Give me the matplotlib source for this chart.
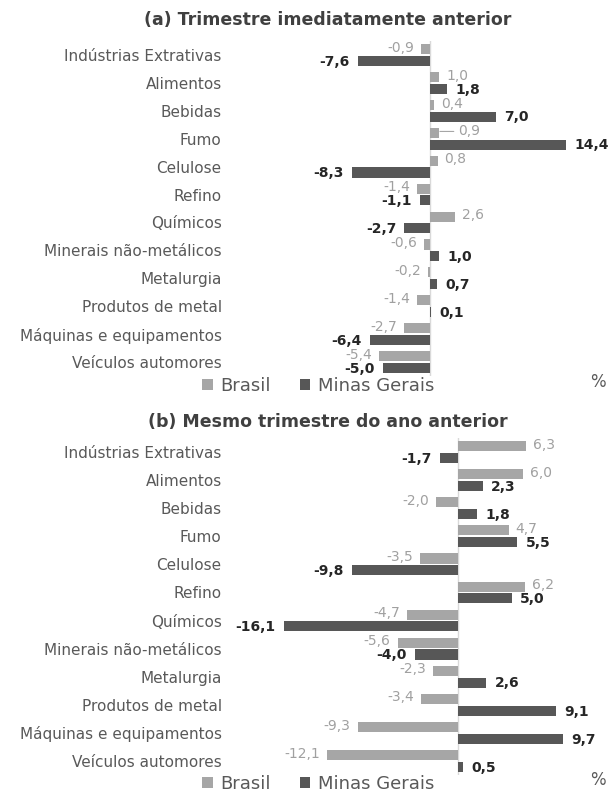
import matplotlib
matplotlib.use("Agg")
import matplotlib.pyplot as plt

plt.rcParams['font.family'] = ['DejaVu Sans']

categories = ["Indústrias Extrativas", "Alimentos", "Bebidas", "Fumo", "Celulose",
              "Refino", "Químicos", "Minerais não-metálicos", "Metalurgia",
              "Produtos de metal", "Máquinas e equipamentos", "Veículos automores"]

# (a) Trimestre imediatamente anterior
brasil_a = [-0.9, 1.0, 0.4, 0.9, 0.8, -1.4, 2.6, -0.6, -0.2, -1.4, -2.7, -5.4]
mg_a = [-7.6, 1.8, 7.0, 14.4, -8.3, -1.1, -2.7, 1.0, 0.7, 0.1, -6.4, -5.0]

# (b) Mesmo trimestre do ano anterior
brasil_b = [6.3, 6.0, -2.0, 4.7, -3.5, 6.2, -4.7, -5.6, -2.3, -3.4, -9.3, -12.1]
mg_b = [-1.7, 2.3, 1.8, 5.5, -9.8, 5.0, -16.1, -4.0, 2.6, 9.1, 9.7, 0.5]

titles = ["(a) Trimestre imediatamente anterior", "(b) Mesmo trimestre do ano anterior"]

W, H = 611, 794
C_BR = "#a6a6a6"
C_MG = "#575757"
C_TXT = "#595959"


def fmt(v):
    return ("%.1f" % v).replace(".", ",")


def px_axes(fig, left, top, right, bottom):
    return fig.add_axes([left / W, 1 - bottom / H, (right - left) / W, (bottom - top) / H])


def draw_panel(ax, br, mg, xlim, leaders=()):
    n = len(categories)
    ys = list(range(n))
    off, h = 0.21, 0.36
    ax.barh([y - off for y in ys], br, height=h, color=C_BR, label="Brasil")
    ax.barh([y + off for y in ys], mg, height=h, color=C_MG, label="Minas Gerais")
    ax.axvline(0, color="#d9d9d9", lw=1, zorder=0)
    ax.set_xlim(*xlim)
    ax.set_ylim(n - 0.5, -0.5)
    ax.set_yticks(ys)
    ax.set_yticklabels(categories, fontsize=11, color=C_TXT)
    ax.tick_params(axis="y", length=0, pad=6)
    ax.set_xticks([])
    for s in ax.spines.values():
        s.set_visible(False)
    for i, (y, v) in enumerate(zip(ys, br)):
        sign = 1 if v >= 0 else -1
        if i in leaders:
            # label pushed away from the bar with a short leader line
            ax.annotate(fmt(v), (v, y - off - 0.05), xytext=(14, 0),
                        textcoords="offset points", ha="left", va="center",
                        fontsize=10, color="#a0a0a0",
                        arrowprops=dict(arrowstyle="-", color="#a6a6a6", lw=0.8,
                                        shrinkA=1, shrinkB=1))
        else:
            ax.annotate(fmt(v), (v, y - off - 0.05), xytext=(5 * sign, 0),
                        textcoords="offset points", ha="left" if v >= 0 else "right",
                        va="center", fontsize=10, color="#a0a0a0")
    for y, v in zip(ys, mg):
        ax.annotate(fmt(v), (v, y + off + 0.03), xytext=(6 if v >= 0 else -6, 0),
                    textcoords="offset points", ha="left" if v >= 0 else "right",
                    va="center", fontsize=10, color="#262626", fontweight="bold")


fig = plt.figure(figsize=(W / 100, H / 100), dpi=100)

ax1 = px_axes(fig, 230, 41, 611, 376)
draw_panel(ax1, brasil_a, mg_a, ((230 - 430) / 9.45, (611 - 430) / 9.45), leaders=[3])
ax2 = px_axes(fig, 230, 438, 611, 775)
draw_panel(ax2, brasil_b, mg_b, ((230 - 458) / 10.8, (611 - 458) / 10.8))

for ax, ty, ly in [(ax1, 20, 386), (ax2, 422, 784)]:
    fig.text(328 / W, 1 - ty / H, titles[0] if ax is ax1 else titles[1], ha="center",
             va="center", fontsize=12.5, fontweight="bold", color="#404040")
    handles, labels = ax.get_legend_handles_labels()
    fig.legend(handles, labels, loc="center", bbox_to_anchor=(318 / W, 1 - ly / H),
               ncol=2, frameon=False, fontsize=13, handlelength=0.6, handleheight=0.6,
               handletextpad=0.4, columnspacing=1.6, labelcolor=C_TXT,
               borderpad=0, borderaxespad=0)
    fig.text(598 / W, 1 - (ly - 4) / H, "%", ha="center", va="center",
             fontsize=12, color=C_TXT)

fig.savefig("out.png", dpi=100, facecolor="white")
